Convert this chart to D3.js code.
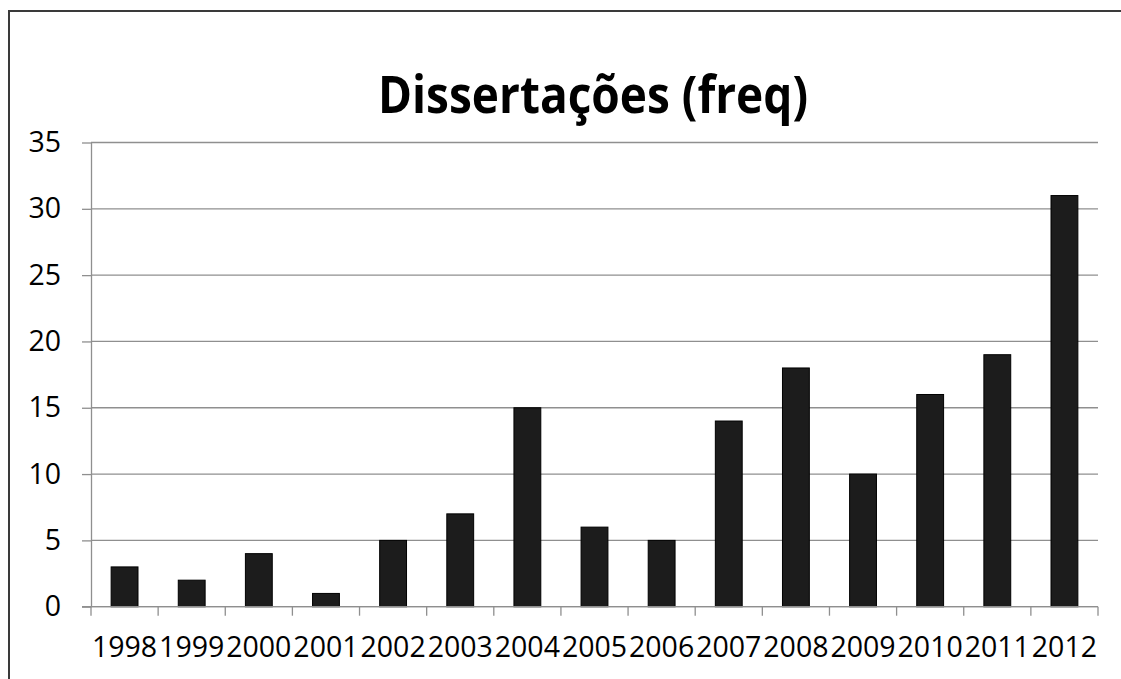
<!DOCTYPE html>
<html>
<head>
<meta charset="utf-8">
<script src="https://cdn.jsdelivr.net/npm/d3@7"></script>
<style>
  body { margin: 0; background: #fff; }
  svg { display: block; }
</style>
</head>
<body>
<div id="plot"></div>
<script>
function init() {
    var w = 1121;
    var h = 679;

    // Data
    var years = ["1998", "1999", "2000", "2001", "2002", "2003", "2004", "2005",
                 "2006", "2007", "2008", "2009", "2010", "2011", "2012"];
    var counts = [3, 2, 4, 1, 5, 7, 15, 6, 5, 14, 18, 10, 16, 19, 31];
    var yTicks = [0, 5, 10, 15, 20, 25, 30, 35];
    var title = "Dissertações (freq)";

    // Plot area
    var left = 91, right = 1098, top = 142.5, bottom = 606.7;
    var font = "'Open Sans', 'Noto Sans', sans-serif";

    var svg = d3.select("#plot")
      .append("svg")
      .attr("width", w)
      .attr("height", h);

    // Outer frame (only top and left edges are visible)
    svg.append("rect")
      .attr("x", 9)
      .attr("y", 11)
      .attr("width", w + 20)
      .attr("height", h + 20)
      .attr("fill", "none")
      .attr("stroke", "#3a3a3a")
      .attr("stroke-width", 2);

    var xScale = d3.scaleBand()
      .domain(years)
      .range([left, right])
      .paddingInner(0)
      .paddingOuter(0);

    var yScale = d3.scaleLinear()
      .domain([0, 35])
      .range([bottom, top]);

    // Gridlines
    svg.append("g")
      .selectAll("line")
      .data(yTicks)
      .enter()
      .append("line")
      .attr("x1", left)
      .attr("x2", right)
      .attr("y1", function(d) { return yScale(d); })
      .attr("y2", function(d) { return yScale(d); })
      .attr("stroke", "#8f8f8f")
      .attr("stroke-width", 1.3);

    // y-axis
    var yAxis = d3.axisLeft(yScale)
      .tickValues(yTicks)
      .tickSize(9)
      .tickPadding(21)
      .tickSizeOuter(0);

    var gy = svg.append("g")
      .attr("transform", "translate(" + left + ",0)")
      .call(yAxis);
    gy.select(".domain").attr("stroke", "#8f8f8f").attr("stroke-width", 1.3);
    gy.selectAll(".tick line").attr("stroke", "#8f8f8f").attr("stroke-width", 1.3);
    gy.selectAll(".tick text")
      .attr("fill", "#000")
      .style("font-family", font)
      .style("font-size", "28.5px");

    // Bars
    var barW = xScale.bandwidth() / 2.5;
    svg.selectAll("rect.bar")
      .data(counts)
      .enter()
      .append("rect")
      .attr("class", "bar")
      .attr("x", function(d, i) { return xScale(years[i]) + (xScale.bandwidth() - barW) / 2; })
      .attr("y", function(d) { return yScale(d); })
      .attr("width", barW)
      .attr("height", function(d) { return bottom - yScale(d); })
      .attr("fill", "#1c1c1c")
      .attr("stroke", "#000")
      .attr("stroke-width", 1);

    // x-axis: ticks at category boundaries
    var boundaries = years.map(function(d) { return xScale(d); }).concat([right]);
    var gx = svg.append("g");
    gx.append("line")
      .attr("x1", left - 9)
      .attr("x2", right)
      .attr("y1", bottom)
      .attr("y2", bottom)
      .attr("stroke", "#8f8f8f")
      .attr("stroke-width", 1.3);
    gx.selectAll("line.tk")
      .data(boundaries)
      .enter()
      .append("line")
      .attr("class", "tk")
      .attr("x1", function(d) { return d; })
      .attr("x2", function(d) { return d; })
      .attr("y1", bottom)
      .attr("y2", bottom + 9)
      .attr("stroke", "#8f8f8f")
      .attr("stroke-width", 1.3);
    gx.selectAll("text")
      .data(years)
      .enter()
      .append("text")
      .attr("x", function(d) { return xScale(d) + xScale.bandwidth() / 2; })
      .attr("y", 657)
      .attr("text-anchor", "middle")
      .style("font-family", font)
      .style("font-size", "28.5px")
      .text(function(d) { return d; });

    // Title
    svg.append("text")
      .attr("x", 593)
      .attr("y", 113)
      .attr("text-anchor", "middle")
      .attr("textLength", 430)
      .attr("lengthAdjust", "spacingAndGlyphs")
      .style("font-family", font)
      .style("font-weight", "bold")
      .style("font-size", "52px")
      .text(title);
}

window.onload = init;
</script>
</body>
</html>
